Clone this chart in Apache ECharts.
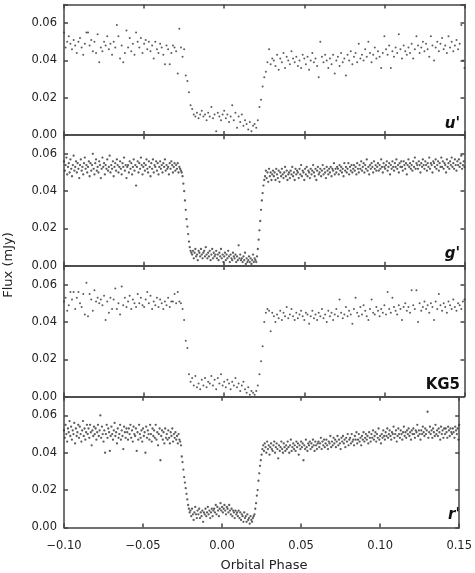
<!DOCTYPE html>
<html><head><meta charset="utf-8">
<script src="https://cdn.jsdelivr.net/npm/echarts@6/dist/echarts.min.js"></script>
<style>html,body{margin:0;padding:0;background:#fff}#c{width:475px;height:573px}</style>
</head><body><div id="c"></div>
<script>
// Orbital phase in units of 0.001; flux in units of 0.001 mJy
const phaseSparse = [
-100,-99,-98,-97,-96,-95,-94,-93,-92,-91,
-90,-89,-88,-87,-86,-85,-84,-83,-82,-81,
-80,-79,-78,-77,-76,-75,-74,-73,-72,-71,
-70,-69,-68,-67,-66,-65,-64,-63,-62,-61,
-60,-59,-58,-57,-56,-55,-54,-53,-52,-51,
-50,-49,-48,-47,-46,-45,-44,-43,-42,-41,
-40,-39,-38,-37,-36,-35,-34,-33,-32,-31,
-30,-29,-28,-27,-26,-25,-24,-23,-22,-21,
-20,-19,-18,-17,-16,-15,-14,-13,-12,-11,
-10,-9,-8,-7,-6,-5,-4,-3,-2,-1,
0,1,2,3,4,5,6,7,8,9,
10,11,12,13,14,15,16,17,18,19,
20,21,22,23,24,25,26,27,28,29,
30,31,32,33,34,35,36,37,38,39,
40,41,42,43,44,45,46,47,48,49,
50,51,52,53,54,55,56,57,58,59,
60,61,62,63,64,65,66,67,68,69,
70,71,72,73,74,75,76,77,78,79,
80,81,82,83,84,85,86,87,88,89,
90,91,92,93,94,95,96,97,98,99,
100,101,102,103,104,105,106,107,108,109,
110,111,112,113,114,115,116,117,118,119,
120,121,122,123,124,125,126,127,128,129,
130,131,132,133,134,135,136,137,138,139,
140,141,142,143,144,145,146,147,148,149,
150];

const phaseDense = [
-100,-99.5,-99,-98.5,-98,-97.5,-97,-96.5,-96,-95.5,
-95,-94.5,-94,-93.5,-93,-92.5,-92,-91.5,-91,-90.5,
-90,-89.5,-89,-88.5,-88,-87.5,-87,-86.5,-86,-85.5,
-85,-84.5,-84,-83.5,-83,-82.5,-82,-81.5,-81,-80.5,
-80,-79.5,-79,-78.5,-78,-77.5,-77,-76.5,-76,-75.5,
-75,-74.5,-74,-73.5,-73,-72.5,-72,-71.5,-71,-70.5,
-70,-69.5,-69,-68.5,-68,-67.5,-67,-66.5,-66,-65.5,
-65,-64.5,-64,-63.5,-63,-62.5,-62,-61.5,-61,-60.5,
-60,-59.5,-59,-58.5,-58,-57.5,-57,-56.5,-56,-55.5,
-55,-54.5,-54,-53.5,-53,-52.5,-52,-51.5,-51,-50.5,
-50,-49.5,-49,-48.5,-48,-47.5,-47,-46.5,-46,-45.5,
-45,-44.5,-44,-43.5,-43,-42.5,-42,-41.5,-41,-40.5,
-40,-39.5,-39,-38.5,-38,-37.5,-37,-36.5,-36,-35.5,
-35,-34.5,-34,-33.5,-33,-32.5,-32,-31.5,-31,-30.5,
-30,-29.5,-29,-28.5,-28,-27.5,-27,-26.5,-26,-25.5,
-25,-24.5,-24,-23.5,-23,-22.5,-22,-21.5,-21,-20.5,
-20,-19.5,-19,-18.5,-18,-17.5,-17,-16.5,-16,-15.5,
-15,-14.5,-14,-13.5,-13,-12.5,-12,-11.5,-11,-10.5,
-10,-9.5,-9,-8.5,-8,-7.5,-7,-6.5,-6,-5.5,
-5,-4.5,-4,-3.5,-3,-2.5,-2,-1.5,-1,-0.5,
0,0.5,1,1.5,2,2.5,3,3.5,4,4.5,
5,5.5,6,6.5,7,7.5,8,8.5,9,9.5,
10,10.5,11,11.5,12,12.5,13,13.5,14,14.5,
15,15.5,16,16.5,17,17.5,18,18.5,19,19.5,
20,20.5,21,21.5,22,22.5,23,23.5,24,24.5,
25,25.5,26,26.5,27,27.5,28,28.5,29,29.5,
30,30.5,31,31.5,32,32.5,33,33.5,34,34.5,
35,35.5,36,36.5,37,37.5,38,38.5,39,39.5,
40,40.5,41,41.5,42,42.5,43,43.5,44,44.5,
45,45.5,46,46.5,47,47.5,48,48.5,49,49.5,
50,50.5,51,51.5,52,52.5,53,53.5,54,54.5,
55,55.5,56,56.5,57,57.5,58,58.5,59,59.5,
60,60.5,61,61.5,62,62.5,63,63.5,64,64.5,
65,65.5,66,66.5,67,67.5,68,68.5,69,69.5,
70,70.5,71,71.5,72,72.5,73,73.5,74,74.5,
75,75.5,76,76.5,77,77.5,78,78.5,79,79.5,
80,80.5,81,81.5,82,82.5,83,83.5,84,84.5,
85,85.5,86,86.5,87,87.5,88,88.5,89,89.5,
90,90.5,91,91.5,92,92.5,93,93.5,94,94.5,
95,95.5,96,96.5,97,97.5,98,98.5,99,99.5,
100,100.5,101,101.5,102,102.5,103,103.5,104,104.5,
105,105.5,106,106.5,107,107.5,108,108.5,109,109.5,
110,110.5,111,111.5,112,112.5,113,113.5,114,114.5,
115,115.5,116,116.5,117,117.5,118,118.5,119,119.5,
120,120.5,121,121.5,122,122.5,123,123.5,124,124.5,
125,125.5,126,126.5,127,127.5,128,128.5,129,129.5,
130,130.5,131,131.5,132,132.5,133,133.5,134,134.5,
135,135.5,136,136.5,137,137.5,138,138.5,139,139.5,
140,140.5,141,141.5,142,142.5,143,143.5,144,144.5,
145,145.5,146,146.5,147,147.5,148,148.5,149,149.5,
150];

const fluxU = [
55,47,50,53,49,46,51,48,44,50,
52,47,43,49,55,55,48,51,45,50,
44,54,39,47,45,50,48,53,46,49,
43,50,47,59,53,41,48,39,44,56,
47,52,45,49,43,55,50,47,52,44,
49,51,46,50,45,48,41,50,46,44,
49,47,43,38,48,46,38,44,48,47,
45,33,57,47,42,46,32,29,23,16,
14,11,10,12,9,11,13,10,11,8,
12,10,15,9,11,2,12,10,8,11,
13,9,11,7,10,16,8,12,4,10,
7,11,5,8,6,3,7,2,5,6,
4,8,15,19,26,31,34,39,46,38,
41,40,37,43,35,41,39,44,36,42,
40,38,45,41,39,42,37,40,36,43,
41,38,42,35,40,44,39,41,37,31,
50,42,39,43,40,36,41,38,43,33,
40,42,37,44,39,41,32,43,40,45,
38,42,44,39,49,41,43,40,46,42,
50,44,39,43,47,41,45,42,36,44,
53,46,43,48,36,45,42,47,44,54,
46,41,48,45,43,47,44,49,41,46,
53,48,44,47,50,45,49,46,42,53,
48,40,47,50,45,49,52,46,48,44,
53,47,50,45,48,51,46,49,59,40,
36];

const fluxKG5 = [
51,53,46,49,56,52,56,47,53,56,
50,48,55,44,61,43,55,52,46,57,
51,53,50,52,49,54,41,51,45,53,
47,52,58,47,50,44,59,49,53,48,
51,54,47,52,50,48,55,50,53,49,
48,52,56,50,54,47,51,49,53,48,
52,50,47,51,49,53,48,51,51,55,
50,56,51,50,47,41,30,26,12,8,
10,6,11,5,7,4,9,6,10,5,
8,7,11,6,9,4,10,7,12,6,
8,5,9,7,4,8,6,10,5,7,
3,6,8,4,2,5,1,3,2,1,
3,6,12,19,27,40,45,47,46,35,
45,43,40,44,42,46,41,45,43,48,
42,44,47,43,41,45,42,44,46,43,
41,45,44,39,43,46,42,44,41,45,
43,47,42,44,40,46,43,45,41,44,
47,43,52,45,42,44,48,43,46,44,
39,47,53,45,43,48,44,49,46,43,
41,47,52,45,44,48,46,43,47,45,
49,44,56,47,45,53,48,46,44,49,
47,41,48,50,46,48,45,57,49,47,
57,40,50,46,48,51,47,49,45,50,
48,41,51,47,55,49,46,50,48,45,
51,49,47,52,48,46,50,49,47,51,
52];

const fluxG = [
56,51,54,58,49,53,55,50,57,52,
48,54,59,51,53,56,50,55,52,47,
54,57,51,53,49,55,58,52,54,50,
53,56,48,55,51,54,60,52,49,55,
57,51,53,50,56,54,47,52,58,53,
55,49,54,52,57,51,53,59,50,54,
52,56,48,53,55,51,57,54,50,53,
56,52,49,55,53,58,51,54,47,53,
54,50,56,52,55,49,53,57,51,54,
43,53,56,50,55,52,58,54,49,53,
55,51,54,57,52,50,56,53,48,55,
52,57,50,54,53,56,51,55,49,53,
56,52,54,50,55,53,57,51,54,52,
53,49,55,52,56,54,50,53,55,51,
54,52,55,50,53,52,51,
50,48,44,40,35,30,25,21,17,13,10,8,7,
6,8,4,7,9,5,6,3,8,7,
5,9,6,4,7,8,5,10,6,4,
7,5,8,3,6,9,4,7,5,6,
8,4,6,3,7,5,9,4,6,2,
5,7,3,6,4,8,5,2,6,4,
3,7,5,4,6,2,5,3,11,4,
6,3,4,2,5,3,7,1,4,2,
3,5,2,4,1,3,6,2,4,3,
2,
5,9,14,19,24,30,35,39,43,46,48,
51,47,50,45,52,48,50,46,49,51,
48,50,46,52,49,47,51,45,50,48,
52,49,47,50,53,48,51,46,49,50,
47,51,49,53,48,50,46,52,49,51,
50,47,52,49,54,48,51,50,46,52,
49,53,48,51,50,47,52,49,51,54,
50,48,52,46,51,53,49,50,52,48,
51,54,49,52,50,47,53,51,49,52,
50,53,48,52,51,55,49,52,50,53,
52,49,54,51,53,50,52,48,55,51,
53,50,52,55,49,53,51,54,50,52,
54,51,53,49,55,52,50,54,52,56,
51,53,55,50,54,52,57,51,53,49,
54,52,55,53,50,56,52,54,51,53,
55,51,54,52,57,53,50,55,53,52,
54,56,51,53,55,49,54,52,56,53,
51,55,53,57,52,54,50,55,53,56,
53,51,56,54,52,55,49,54,57,53,
55,52,54,51,56,53,58,52,55,54,
52,56,54,50,55,53,57,54,52,56,
54,51,55,53,58,52,55,54,50,56,
55,53,57,52,54,56,51,55,53,58,
53,56,52,55,54,50,57,53,55,52,
56,54,58,53,55,52,57,54,51,56,
54,57,53,55,59,52,54,56,53];

const fluxR = [
52,48,55,50,46,53,51,57,49,54,
47,52,50,56,45,53,49,51,55,48,
54,50,46,52,57,49,53,47,51,55,
50,53,48,55,51,44,52,49,54,50,
53,47,51,55,49,52,60,48,54,50,
46,52,40,50,55,48,53,51,41,49,
54,50,47,52,56,49,51,45,53,48,
50,55,47,52,49,42,54,51,48,53,
51,47,53,50,55,48,52,46,54,50,
49,53,41,51,47,55,50,48,52,46,
53,49,51,40,54,48,52,50,47,55,
50,46,53,49,52,48,55,47,51,44,
50,53,36,49,52,47,51,45,53,48,
50,47,52,48,45,51,49,53,46,50,
48,51,47,49,45,50,47,
46,44,38,35,31,27,24,21,18,15,12,10,8,
9,6,10,7,4,8,11,7,5,9,
7,10,5,8,6,9,3,8,7,10,
6,8,11,7,9,5,8,10,6,9,
10,8,12,7,11,9,6,10,13,9,
11,8,10,12,9,7,11,10,8,12,
9,7,10,6,9,8,5,9,7,8,
6,9,5,8,4,7,6,3,8,5,
6,3,7,4,5,2,6,4,3,5,
6,
7,10,13,17,20,25,29,33,36,39,42,
44,41,45,43,40,46,42,44,39,43,
45,42,41,44,46,40,43,45,42,37,
44,41,43,46,42,40,45,43,41,44,
42,46,43,40,44,47,41,43,45,42,
44,41,46,43,45,39,44,42,46,43,
45,36,44,42,47,43,41,45,44,46,
42,45,43,47,44,41,46,44,42,45,
46,43,45,48,42,46,44,47,43,45,
47,44,42,46,45,49,43,46,44,48,
45,47,43,46,49,44,47,45,42,48,
46,49,45,47,43,48,46,50,44,47,
48,45,50,46,47,44,49,47,51,45,
47,50,46,48,44,49,47,51,46,48,
50,47,49,45,51,48,46,50,48,52,
47,49,51,46,50,48,53,47,49,45,
50,48,52,49,47,51,49,53,48,50,
52,49,47,51,50,54,48,50,52,46,
49,53,50,48,52,50,47,51,54,49,
51,48,52,50,53,49,51,47,52,50,
53,50,48,52,51,55,49,52,50,47,
52,50,54,51,49,53,50,52,62,48,
51,54,50,52,48,53,51,49,55,50,
52,49,53,51,47,54,50,52,48,53,
50,53,51,48,54,52,49,53,51,50,
53,51,48,54,52,50,53,47,55];

const bandNames = ["u'", "g'", "KG5", "r'"];
const xLabel = 'Orbital Phase';
const yLabel = 'Flux (mJy)';

const panels = [
  {phase: phaseSparse, flux: fluxU, size: 2},
  {phase: phaseDense, flux: fluxG, size: 2.3},
  {phase: phaseSparse, flux: fluxKG5, size: 2},
  {phase: phaseDense, flux: fluxR, size: 2.3}
];

const FONT = "'DejaVu Sans', Verdana, sans-serif";
const tops = [4.5, 135.2, 266, 396.8];
const H = 130.6;
const LEFT = 64, RIGHT = 10.5;
const axisLineStyle = {color: '#444', width: 1.5};

function fmtX(v) {
  if (Math.abs(v) < 1e-9) return '0.00';
  return (v < 0 ? '\u2212' : '') + Math.abs(v).toFixed(2);
}
function fmtY(v) {
  if (v > 0.065) return '';
  return v.toFixed(2);
}

const grid = tops.map(t => ({left: LEFT, right: RIGHT, top: t, height: H}));
const xAxis = [], yAxis = [];
panels.forEach((p, i) => {
  ['bottom', 'top'].forEach(pos => xAxis.push({
    gridIndex: i, type: 'value', position: pos, min: -0.1, max: 0.15, interval: 0.05,
    axisLine: {show: true, onZero: false, lineStyle: axisLineStyle},
    axisTick: {show: true, inside: true, length: 4, lineStyle: axisLineStyle},
    axisLabel: {show: pos === 'bottom' && i === 3, margin: 13, color: '#222',
      fontFamily: FONT, fontSize: 11.5, formatter: fmtX},
    splitLine: {show: false}
  }));
  ['left', 'right'].forEach(pos => yAxis.push({
    gridIndex: i, type: 'value', position: pos, min: 0, max: 0.07, interval: 0.02,
    axisLine: {show: true, onZero: false, lineStyle: axisLineStyle},
    axisTick: {show: true, inside: true, length: 4, lineStyle: axisLineStyle},
    axisLabel: {show: pos === 'left', margin: 7, color: '#222',
      fontFamily: FONT, fontSize: 11.5, formatter: fmtY},
    splitLine: {show: false}
  }));
});

const series = panels.map((p, i) => ({
  type: 'scatter', xAxisIndex: 2 * i, yAxisIndex: 2 * i,
  data: p.phase.map((ph, k) => [ph / 1000, p.flux[k] / 1000]),
  symbol: 'circle', symbolSize: p.size,
  itemStyle: {color: '#333'},
  silent: true
}));

const labelY = [125.7, 256, 386.7, 516.7];
const graphic = bandNames.map((n, i) => ({
  type: 'text', right: 15, top: labelY[i] - 9,
  style: {text: n, font: (n === 'KG5' ? 'bold ' : 'italic bold ') + '15px ' + FONT, fill: '#111'}
}));
graphic.push({
  type: 'text', x: 264, y: 566,
  style: {text: xLabel, font: '13px ' + FONT, fill: '#222', textAlign: 'center', textVerticalAlign: 'middle'}
});
graphic.push({
  type: 'text', x: 9, y: 265, rotation: Math.PI / 2,
  style: {text: yLabel, font: '13px ' + FONT, fill: '#222', textAlign: 'center', textVerticalAlign: 'middle'}
});

const chart = echarts.init(document.getElementById('c'), null, {renderer: 'canvas'});
chart.setOption({
  animation: false,
  backgroundColor: '#fff',
  grid, xAxis, yAxis, series, graphic
});
</script>
</body></html>
